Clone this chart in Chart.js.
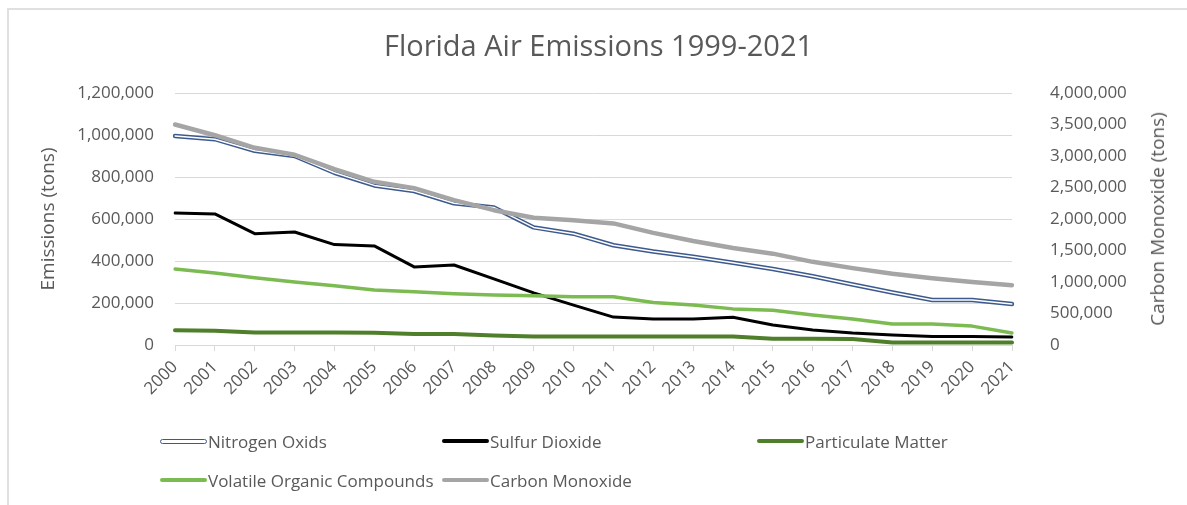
<!DOCTYPE html>
<html>
<head>
<meta charset="utf-8">
<script src="https://cdn.jsdelivr.net/npm/chart.js@4"></script>
<style>
  html, body { margin: 0; padding: 0; background: #fff; }
  #wrap { position: relative; width: 1187px; height: 505px; overflow: hidden; }
  #frame { position: absolute; left: 7px; top: 8px; width: 1300px; height: 600px;
           border-left: 2px solid #e0e0e0; border-top: 2px solid #e0e0e0; }
  canvas { position: absolute; left: 0; top: 0; }
  .lg { position: absolute; font-family: "Open Sans", sans-serif; font-size: 17px; color: #595959;
        white-space: nowrap; display: flex; align-items: center; height: 22px; }
  .sw { display: inline-block; width: 47px; height: 4px; border-radius: 2px; margin-right: 1px; }
  .dbl { box-sizing: border-box; height: 5px; border: 1.5px solid #3d5a8e; background: #fff; border-radius: 3px; }
  #rtitle { position: absolute; left: 1157px; top: 219px; transform: translate(-50%, -50%) rotate(-90deg);
            font-family: "Open Sans", sans-serif; font-size: 19px; color: #595959; white-space: nowrap; }
</style>
</head>
<body>
<div id="wrap">
  <div id="frame"></div>
  <canvas id="c" width="1187" height="505"></canvas>
  <div id="legend"></div>
  <div id="rtitle">Carbon Monoxide (tons)</div>
</div>
<script>
const years = ['2000','2001','2002','2003','2004','2005','2006','2007','2008','2009','2010',
               '2011','2012','2013','2014','2015','2016','2017','2018','2019','2020','2021'];
const nitrogenOxids = [995000, 980000, 925000, 900000, 820000, 760000, 733000, 675000, 655000, 560000, 530000,
                       475000, 445000, 420000, 392000, 362000, 327000, 288000, 250000, 214000, 214000, 195000];
const sulfurDioxide = [628000, 624000, 530000, 538000, 478000, 472000, 372000, 381000, 315000, 248000, 190000,
                       133000, 124000, 124000, 132000, 95000, 71000, 57000, 48000, 40000, 40000, 38000];
const particulateMatter = [70000, 68000, 60000, 60000, 60000, 58000, 52000, 52000, 45000, 40000, 40000,
                           40000, 40000, 40000, 40000, 30000, 30000, 29000, 12000, 12000, 12000, 12000];
const volatileOrganic = [362000, 343000, 320000, 300000, 282000, 262000, 253000, 244000, 238000, 235000, 230000,
                         230000, 202000, 190000, 172000, 165000, 143000, 124000, 100000, 100000, 90000, 57000];
const carbonMonoxide = [3500000, 3330000, 3130000, 3020000, 2790000, 2590000, 2490000, 2300000, 2140000, 2020000, 1980000,
                        1930000, 1780000, 1650000, 1540000, 1450000, 1320000, 1220000, 1130000, 1060000, 1000000, 950000];

const leftTicks = [0, 200000, 400000, 600000, 800000, 1000000, 1200000];
const rightTicks = [0, 500000, 1000000, 1500000, 2000000, 2500000, 3000000, 3500000, 4000000];

const TXT = '#595959';
const GRID = '#d9d9d9';
const FONT = '"Open Sans", sans-serif';
const fmt = v => Number(v).toLocaleString('en-US');

const cfg = {
  type: 'line',
  data: {
    labels: years,
    datasets: [
      { label: 'Carbon Monoxide', data: carbonMonoxide, yAxisID: 'y1', borderColor: '#a5a5a5', borderWidth: 4.5, order: 0 },
      { label: 'Volatile Organic Compounds', data: volatileOrganic, yAxisID: 'y', borderColor: '#7cbb52', borderWidth: 3.5, order: 1 },
      { label: 'Particulate Matter', data: particulateMatter, yAxisID: 'y', borderColor: '#4f7f2b', borderWidth: 4, order: 2 },
      { label: 'Sulfur Dioxide', data: sulfurDioxide, yAxisID: 'y', borderColor: '#000000', borderWidth: 3, order: 3 },
      { label: 'Nitrogen Oxids (inner)', data: nitrogenOxids, yAxisID: 'y', borderColor: '#ffffff', borderWidth: 1.5, order: 4 },
      { label: 'Nitrogen Oxids', data: nitrogenOxids, yAxisID: 'y', borderColor: '#3d5a8e', borderWidth: 4.5, order: 5 }
    ]
  },
  options: {
    responsive: false,
    animation: false,
    events: [],
    layout: { padding: { top: 0, left: 30, right: 20, bottom: 0 } },
    elements: { point: { radius: 0 }, line: { tension: 0, borderCapStyle: 'round', borderJoinStyle: 'round' } },
    plugins: {
      legend: { display: false },
      tooltip: { enabled: false },
      title: {
        display: true,
        text: 'Florida Air Emissions 1999-2021',
        color: TXT,
        font: { family: FONT, size: 29, weight: 'normal', lineHeight: 1.2 },
        padding: { top: 30, bottom: 28.2 }
      }
    },
    scales: {
      x: {
        type: 'category',
        offset: false,
        grid: { display: true, drawOnChartArea: false, drawTicks: true, tickLength: 6, color: GRID },
        border: { display: true, color: GRID, width: 1 },
        ticks: { color: TXT, font: { family: FONT, size: 17 }, minRotation: 45, maxRotation: 45, padding: 6, autoSkip: false },
        afterFit: s => { s.height = 160; }
      },
      y: {
        position: 'left',
        min: 0, max: 1200000,
        afterBuildTicks: s => { s.ticks = leftTicks.map(v => ({ value: v })); },
        grid: { color: GRID, drawTicks: false },
        border: { display: false },
        ticks: { color: TXT, font: { family: FONT, size: 17 }, padding: 21, callback: v => fmt(v) },
        title: { display: true, text: 'Emissions (tons)', color: TXT, font: { family: FONT, size: 19 }, padding: { top: 7, bottom: 0 } },
        afterFit: s => { s.width = 145; }
      },
      y1: {
        position: 'right',
        min: 0, max: 4000000,
        afterBuildTicks: s => { s.ticks = rightTicks.map(v => ({ value: v })); },
        grid: { drawOnChartArea: false, drawTicks: false },
        border: { display: false },
        ticks: { color: TXT, font: { family: FONT, size: 17 }, padding: 38, callback: v => fmt(v) },
        afterFit: s => { s.width = 155; }
      }
    }
  }
};

new Chart(document.getElementById('c'), cfg);

// Legend (HTML)
const legendItems = [
  { text: 'Nitrogen Oxids', x: 160, y: 430, style: 'dbl' },
  { text: 'Sulfur Dioxide', x: 442, y: 430, color: '#000000' },
  { text: 'Particulate Matter', x: 757, y: 430, color: '#4f7f2b' },
  { text: 'Volatile Organic Compounds', x: 160, y: 469, color: '#7cbb52' },
  { text: 'Carbon Monoxide', x: 442, y: 469, color: '#a5a5a5' }
];
const lg = document.getElementById('legend');
legendItems.forEach(it => {
  const d = document.createElement('div');
  d.className = 'lg';
  d.style.left = it.x + 'px';
  d.style.top = it.y + 'px';
  const sw = document.createElement('span');
  sw.className = 'sw' + (it.style === 'dbl' ? ' dbl' : '');
  if (it.color) sw.style.background = it.color;
  d.appendChild(sw);
  d.appendChild(document.createTextNode(it.text));
  lg.appendChild(d);
});
</script>
</body>
</html>
